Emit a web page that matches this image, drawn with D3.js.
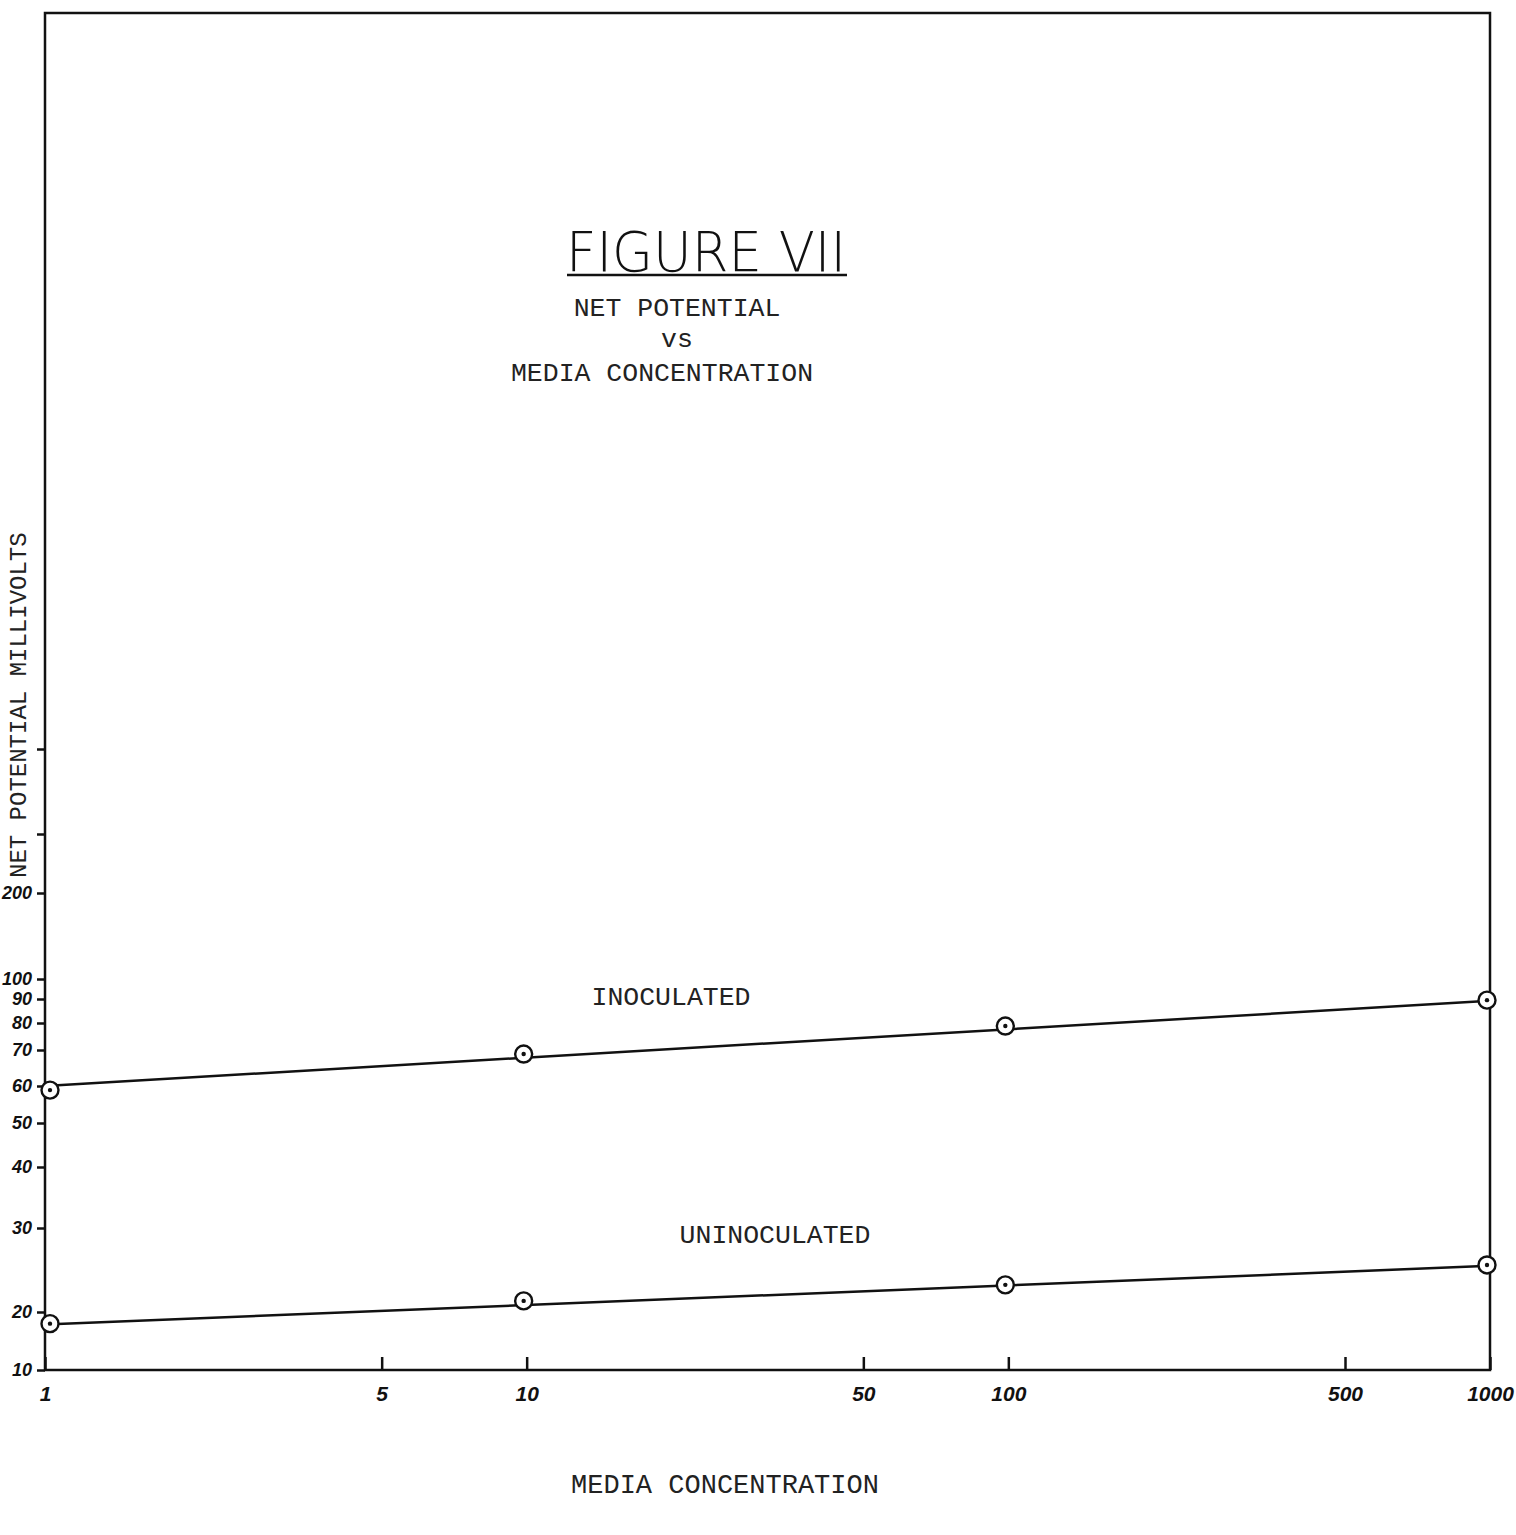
<!DOCTYPE html>
<html>
<head>
<meta charset="utf-8">
<script src="https://cdn.jsdelivr.net/npm/d3@7"></script>
<style>
  body { margin: 0; background: #fff; }
  svg { display: block; }
</style>
</head>
<body>
<div id="chart"></div>
<script>
const concentrations = [1, 10, 100, 1000];
const inoculated = [58.8, 68.8, 78.8, 89.5];
const uninoculated = [17.4, 21.1, 22.8, 25.1];

// straight fitted lines, given by their end values at 1 and 1000
const fitEnds = [1, 1000];
const inoculatedFit = [60, 89.2];
const uninoculatedFit = [17.2, 25];

const xTicks = [1, 5, 10, 50, 100, 500, 1000];
const yTicks = [10, 20, 30, 40, 50, 60, 70, 80, 90, 100, 200, 300, 500];
const yTickLabels = ['10', '20', '30', '40', '50', '60', '70', '80', '90', '100', '200', '', ''];

// the hand drawn y axis is not evenly spaced, so it is calibrated piecewise
const yAxisCalib = [1370, 1312, 1228, 1167, 1123, 1086, 1050, 1023, 999, 979, 893, 834, 749];

const width = 1516;
const height = 1535;
const frameTop = 13;

const svg = d3.select('#chart').append('svg')
  .attr('width', width)
  .attr('height', height);

svg.append('rect').attr('width', width).attr('height', height).attr('fill', '#fff');

const x = d3.scaleLog().domain([1, 1000]).range([45, 1490]);
const y = d3.scaleLog().domain(yTicks).range(yAxisCalib);

const handFont = '"Liberation Sans", Arial, sans-serif';
const typeFont = '"Liberation Mono", "Courier New", monospace';

// frame
svg.append('rect')
  .attr('x', x(1))
  .attr('y', frameTop)
  .attr('width', x(1000) - x(1))
  .attr('height', y(10) - frameTop)
  .attr('fill', 'none')
  .attr('stroke', '#111')
  .attr('stroke-width', 2.5);

const xAxis = svg.append('g')
  .attr('transform', `translate(0,${y(10)})`)
  .call(d3.axisBottom(x)
    .tickValues(xTicks)
    .tickFormat(d3.format('d'))
    .tickSizeInner(-13)
    .tickSizeOuter(0)
    .tickPadding(16));

xAxis.select('.domain').remove();
xAxis.selectAll('line').attr('stroke', '#111').attr('stroke-width', 2.5);
xAxis.selectAll('text')
  .attr('font-family', handFont)
  .attr('font-size', 21)
  .attr('font-weight', 'bold')
  .attr('font-style', 'italic')
  .attr('fill', '#111');

const yAxis = svg.append('g')
  .attr('transform', `translate(${x(1)},0)`)
  .call(d3.axisLeft(y)
    .tickValues(yTicks)
    .tickFormat((d, i) => yTickLabels[i])
    .tickSizeInner(8)
    .tickSizeOuter(0)
    .tickPadding(5));

yAxis.select('.domain').remove();
yAxis.selectAll('line').attr('stroke', '#111').attr('stroke-width', 2.5);
yAxis.selectAll('text')
  .attr('font-family', handFont)
  .attr('font-size', 18)
  .attr('font-weight', 'bold')
  .attr('font-style', 'italic')
  .attr('fill', '#111');

// y axis title along the left edge
svg.append('text')
  .attr('transform', 'translate(26,878) rotate(-90)')
  .attr('font-family', typeFont)
  .attr('font-size', 24)
  .attr('fill', '#222')
  .text('NET POTENTIAL MILLIVOLTS');

const line = d3.line()
  .x(d => x(d[0]))
  .y(d => y(d[1]));

const series = [
  { name: 'INOCULATED', values: inoculated, fit: inoculatedFit },
  { name: 'UNINOCULATED', values: uninoculated, fit: uninoculatedFit }
];

series.forEach(s => {
  svg.append('path')
    .datum(fitEnds.map((c, i) => [c, s.fit[i]]))
    .attr('d', line)
    .attr('fill', 'none')
    .attr('stroke', '#111')
    .attr('stroke-width', 2.5);

  const pts = svg.append('g')
    .selectAll('g')
    .data(concentrations.map((c, i) => [c, s.values[i]]))
    .enter()
    .append('g')
    .attr('transform', d => `translate(${x(d[0]) + (d[0] === 1 ? 5 : -3)},${y(d[1])})`);

  pts.append('circle')
    .attr('r', 8.5)
    .attr('fill', '#fff')
    .attr('stroke', '#111')
    .attr('stroke-width', 2.4);

  pts.append('circle')
    .attr('r', 2.2)
    .attr('fill', '#111');
});

// series labels
svg.append('text')
  .attr('x', 671).attr('y', 1005)
  .attr('text-anchor', 'middle')
  .attr('font-family', typeFont)
  .attr('font-size', 26.5)
  .attr('fill', '#222')
  .text('INOCULATED');

svg.append('text')
  .attr('x', 775).attr('y', 1243)
  .attr('text-anchor', 'middle')
  .attr('font-family', typeFont)
  .attr('font-size', 26.5)
  .attr('fill', '#222')
  .text('UNINOCULATED');

// title block
svg.append('text')
  .attr('x', 706).attr('y', 271)
  .attr('text-anchor', 'middle')
  .attr('font-family', '"DejaVu Sans", sans-serif')
  .attr('font-weight', 200)
  .attr('font-size', 55)
  .attr('textLength', 280)
  .attr('lengthAdjust', 'spacingAndGlyphs')
  .attr('fill', '#111')
  .text('FIGURE VII');

svg.append('line')
  .attr('x1', 567).attr('x2', 847)
  .attr('y1', 275).attr('y2', 275)
  .attr('stroke', '#111')
  .attr('stroke-width', 2.5);

const subtitle = ['NET POTENTIAL', 'vs', 'MEDIA CONCENTRATION'];
const subX = [677, 677, 662];
const subY = [316, 347, 381];

svg.selectAll('.subtitle')
  .data(subtitle)
  .enter()
  .append('text')
  .attr('class', 'subtitle')
  .attr('x', (d, i) => subX[i])
  .attr('y', (d, i) => subY[i])
  .attr('text-anchor', 'middle')
  .attr('font-family', typeFont)
  .attr('font-size', 26.5)
  .attr('fill', '#222')
  .text(d => d);

svg.append('text')
  .attr('x', 725).attr('y', 1493)
  .attr('text-anchor', 'middle')
  .attr('font-family', typeFont)
  .attr('font-size', 27)
  .attr('fill', '#222')
  .text('MEDIA CONCENTRATION');
</script>
</body>
</html>
